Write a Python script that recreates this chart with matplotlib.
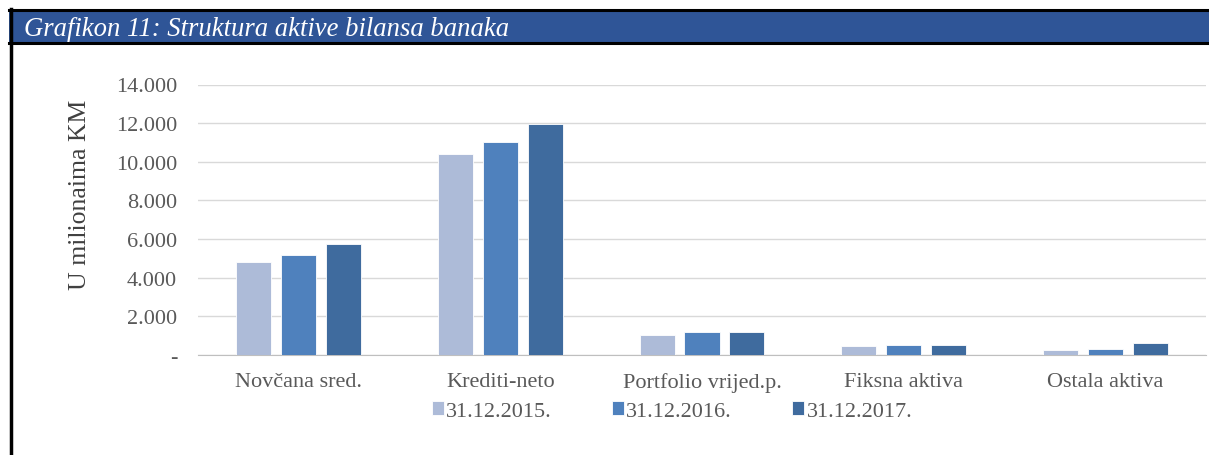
# Grafikon 11: struktura aktive bilansa banaka

import matplotlib.pyplot as plt
from matplotlib.patches import Rectangle
from matplotlib.lines import Line2D
import numpy as np

categories = ["Novčana sred.", "Krediti-neto", "Portfolio vrijed.p.", "Fiksna aktiva", "Ostala aktiva"]
series_names = ["31.12.2015.", "31.12.2016.", "31.12.2017."]
v2015 = [4790, 10380, 1010, 480, 270]
v2016 = [5150, 11030, 1190, 500, 310]
v2017 = [5750, 11980, 1190, 500, 630]
colors = ["#ADBBD8", "#4F81BD", "#3F6B9E"]

plt.rcParams['font.family'] = ['Liberation Serif', 'DejaVu Serif']

fig = plt.figure(figsize=(12.09, 4.56), dpi=100)

# frame and header bar
fig.add_artist(Rectangle((9/1209, 1 - 45/456), 1, 35/456, transform=fig.transFigure,
                         facecolor="#2F5597", edgecolor="none"))
fig.add_artist(Line2D([9/1209, 1], [1 - 11/456, 1 - 11/456], color="black", lw=2.2))
fig.add_artist(Line2D([9/1209, 1], [1 - 44/456, 1 - 44/456], color="black", lw=2.2))
fig.add_artist(Line2D([10.5/1209, 10.5/1209], [0, 1 - 10/456], color="black", lw=2.5))
fig.text(24/1209, 1 - 29/456, "Grafikon 11: Struktura aktive bilansa banaka", color="white",
         fontsize=19.2, style="italic", va="center", ha="left")

ax = fig.add_axes([198/1209, 1 - 356/456, 1008/1209, 270.5/456])

x = np.arange(len(categories))
w = 0.174
step = 0.223
for i, vals in enumerate([v2015, v2016, v2017]):
    ax.bar(x + (i - 1) * step, vals, width=w, color=colors[i], edgecolor="white",
           linewidth=0.6, label=series_names[i], zorder=3)

ax.set_xlim(-0.5, len(categories) - 0.5)
ax.set_ylim(0, 14000)
ax.set_yticks(range(0, 14001, 2000))
ax.set_yticklabels(["-"] + [f"{v:,}".replace(",", ".") for v in range(2000, 14001, 2000)])
ax.set_xticks(x)
ax.set_xticklabels(categories)

ax.grid(axis="y", color="#D9D9D9", linewidth=1, zorder=0)
for s in ["top", "right", "left"]:
    ax.spines[s].set_visible(False)
ax.spines["bottom"].set_color("#BFBFBF")
ax.tick_params(axis="both", length=0, colors="#595959", labelsize=16)
ax.tick_params(axis="x", pad=12)
ax.tick_params(axis="y", pad=15)

fig.text(80/1209, 1 - 195/456, "U milionaima KM", rotation=90, fontsize=18.5,
         color="#404040", ha="center", va="center")

handles, labels = ax.get_legend_handles_labels()
fig.legend(handles, labels, loc="center", bbox_to_anchor=(672/1209, 1 - 412/456), ncol=3,
           frameon=False, fontsize=16, labelcolor="#595959", handlelength=0.55,
           handleheight=0.55, handletextpad=0.1, columnspacing=2.7)

fig.savefig("out.png", dpi=100, facecolor="white")
